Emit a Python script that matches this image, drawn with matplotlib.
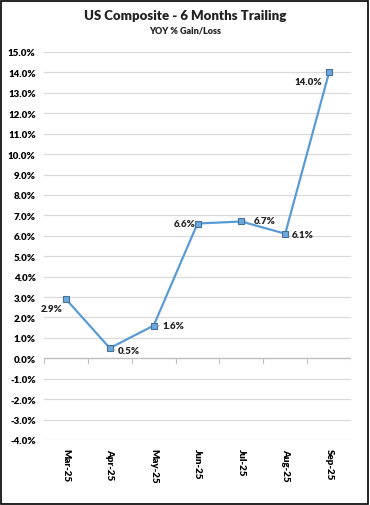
import numpy as np
import matplotlib.pyplot as plt
from matplotlib.ticker import FuncFormatter, MultipleLocator
from matplotlib.patches import Rectangle

months = ['Mar-25', 'Apr-25', 'May-25', 'Jun-25', 'Jul-25', 'Aug-25', 'Sep-25']
values = [2.9, 0.5, 1.6, 6.6, 6.7, 6.1, 14.0]
# label offsets (points) for each data label
label_pos = [(-10, -6.5), (14, -1.5), (14, 0), (-9.5, 0), (17, 0.5), (12.5, -0.5), (-15, -6.5)]
leader = [False, True, True, False, True, False, False]

plt.rcParams['font.family'] = ['Lato', 'DejaVu Sans']
W = 'heavy'

fig = plt.figure(figsize=(3.7, 5.06), dpi=100)
ax = fig.add_axes([44 / 370, 65 / 506, 307 / 370, 388 / 506])

x = np.arange(len(months))
ax.plot(x, values, color='#5b9bd5', lw=1.6, marker='s', ms=5,
        mfc='#6fa8dc', mec='#41719c', mew=0.8, zorder=3)

for i, v in enumerate(values):
    dx, dy = label_pos[i]
    ax.annotate(f'{v:.1f}%', (x[i], v), xytext=(dx, dy), textcoords='offset points',
                ha='center', va='center', fontsize=7, fontweight=W, color='#222222')
    if leader[i]:
        ax.annotate('', (x[i], v), xytext=(4, dy), textcoords='offset points',
                    arrowprops=dict(arrowstyle='-', color='#a6a6a6', lw=0.6,
                                    shrinkA=0, shrinkB=3))

ax.set_xlim(-0.5, len(months) - 0.5)
ax.set_ylim(-4, 15)
ax.yaxis.set_major_locator(MultipleLocator(1))
ax.yaxis.set_major_formatter(FuncFormatter(lambda v, p: f'{v:.1f}%'))
ax.grid(axis='y', color='#d9d9d9', lw=0.9)
ax.set_axisbelow(True)
for s in ax.spines.values():
    s.set_visible(False)
ax.tick_params(axis='y', length=0, labelsize=7, pad=6)
for t in ax.get_yticklabels():
    t.set_fontweight(W)

# category axis at zero with tick marks between categories
ax.axhline(0, color='#bfbfbf', lw=0.9, zorder=2)
for b in np.arange(-0.5, len(months), 1.0):
    ax.plot([b, b], [0, -0.25], color='#bfbfbf', lw=0.8, zorder=2)

ax.set_xticks(x)
ax.set_xticklabels(months, rotation=270, fontsize=7, fontweight=W)
ax.tick_params(axis='x', length=0, pad=6)

fig.text(0.5, 1 - 16 / 506, 'US Composite - 6 Months Trailing', ha='center', va='center',
         fontsize=9.5, fontweight=W, color='#222222')
fig.text(0.5, 1 - 31 / 506, 'YOY % Gain/Loss', ha='center', va='center',
         fontsize=6.5, fontweight=W, color='#222222')

fig.patches.append(Rectangle((1 / 370, 1 / 506), 367 / 370, 503 / 506, transform=fig.transFigure,
                             fill=False, edgecolor='black', lw=1.2))

fig.savefig('out.png', dpi=100)
